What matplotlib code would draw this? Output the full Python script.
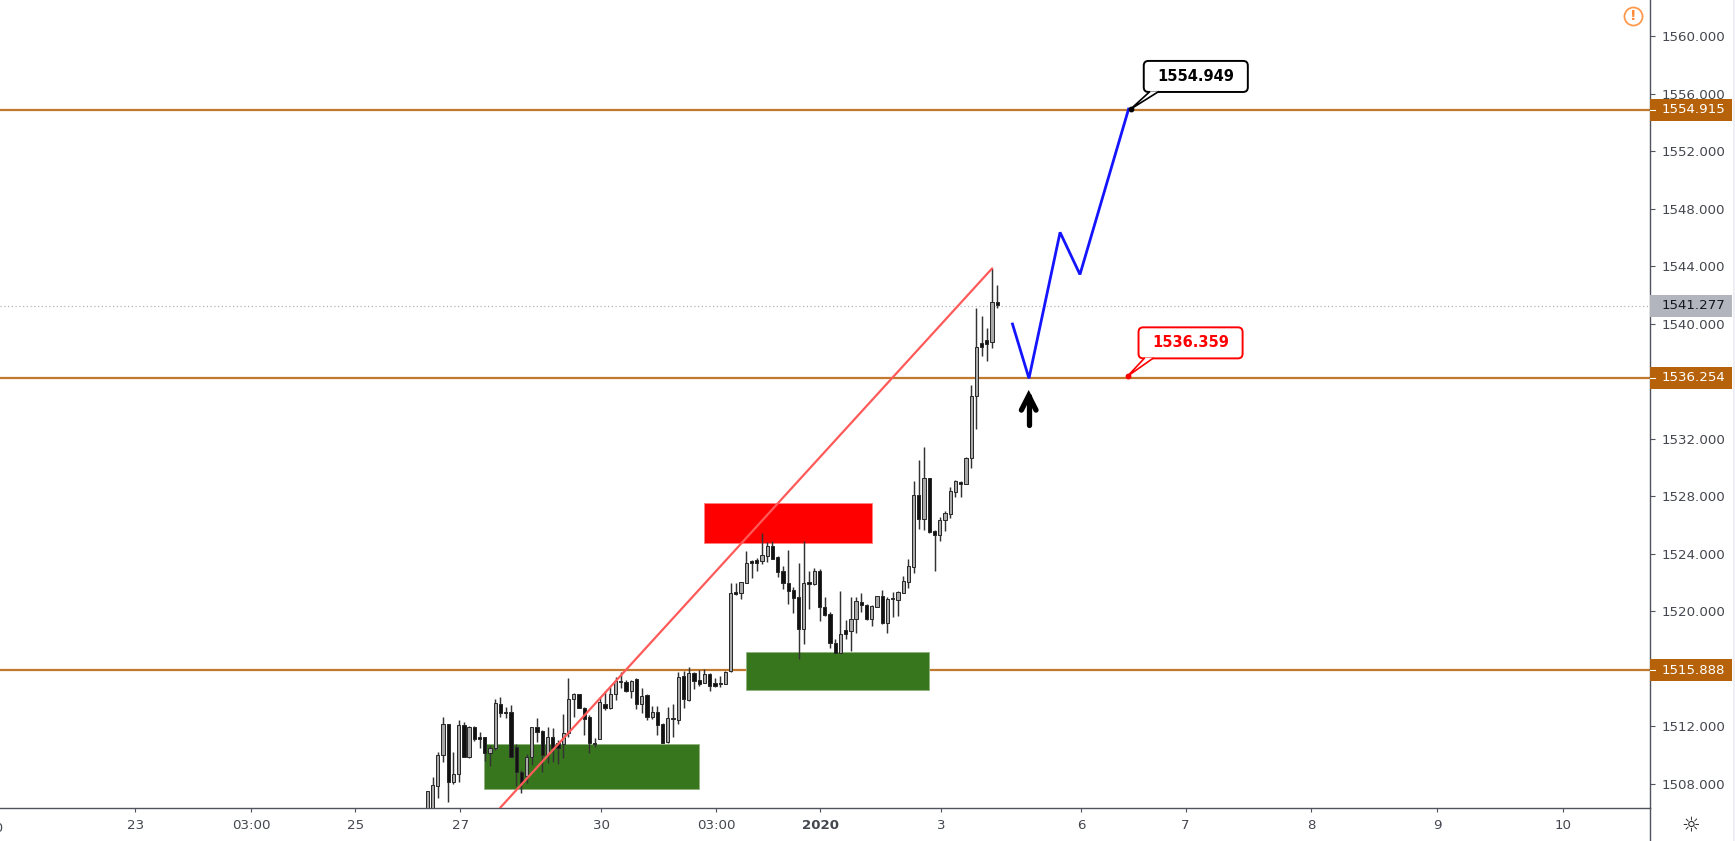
import matplotlib
matplotlib.use("Agg")
import matplotlib.pyplot as plt
from matplotlib.patches import Rectangle, FancyBboxPatch, Polygon
from matplotlib.transforms import blended_transform_factory

highs = [1507.51,1508.49,1510.23,1512.62,1512.15,1510.23,1512.43,1512.31,1512.01,1512.01,
         1511.62,1511.27,1510.69,1513.89,1514.01,1513.31,1513.47,1510.76,1508.95,1510.04,
         1511.97,1512.55,1511.73,1511.92,1511.85,1511.04,1512.85,1515.33,1514.29,1514.24,
         1513.31,1512.78,1511.15,1514.05,1514.47,1514.75,1515.45,1515.79,1515.21,1515.21,
         1515.33,1514.63,1514.22,1513.40,1513.40,1512.20,1513.31,1513.54,1515.79,1515.86,
         1516.14,1515.79,1515.91,1515.98,1515.68,1515.33,1515.49,1515.86,
         1521.99,1521.95,1522.06,1524.22,1523.57,1523.69,1525.43,1524.85,1524.89,1523.85,
         1523.15,1524.27,1521.67,1523.34,1524.89,1522.83,1522.99,1522.92,1520.97,1519.98,
         1518.05,1521.41,1519.40,1520.97,1520.97,1521.25,1520.51,1520.44,1521.07,1521.48,
         1521.02,1521.37,1521.41,1522.46,1523.66,1529.09,1530.52,1531.45,1529.25,1525.66,
         1526.59,1527.00,1528.63,1529.13,1529.09,1530.76,1535.74,1541.08,1540.57,1539.69,
         1543.86,1542.70]
opens = [1505.50,1506.00,1507.86,1510.00,1512.15,1508.09,1508.67,1512.06,1509.83,1511.92,
         1511.22,1511.22,1510.11,1510.46,1513.54,1512.96,1512.96,1510.53,1508.83,1508.56,
         1509.88,1511.92,1511.66,1510.02,1511.27,1510.81,1510.76,1511.50,1513.87,1514.24,
         1513.27,1512.66,1510.85,1511.08,1513.54,1513.24,1514.24,1515.17,1515.05,1514.47,
         1515.28,1513.54,1514.17,1512.62,1513.01,1512.15,1510.88,1512.59,1512.43,1515.49,
         1513.82,1515.68,1515.22,1514.98,1515.61,1514.98,1514.98,1514.94,
         1515.85,1521.32,1521.25,1521.99,1523.48,1523.57,1523.53,1523.85,1524.55,1523.80,
         1522.81,1521.99,1521.48,1520.97,1518.75,1522.04,1521.88,1522.83,1520.32,1519.81,
         1517.82,1517.08,1518.70,1518.65,1519.44,1520.67,1520.44,1519.44,1520.32,1521.07,
         1519.21,1520.88,1520.79,1521.30,1522.06,1523.11,1528.10,1526.40,1529.25,1525.61,
         1525.31,1526.36,1526.77,1528.32,1529.02,1528.85,1530.64,1534.98,1538.64,1538.88,
         1538.76,1541.54]
closes = [1507.51,1507.91,1510.00,1512.15,1508.09,1508.67,1512.06,1509.83,1511.92,1511.08,
          1511.11,1510.11,1510.46,1513.59,1512.89,1512.89,1509.83,1508.79,1508.02,1509.88,
          1511.92,1511.57,1510.00,1511.27,1510.46,1510.46,1511.55,1513.89,1514.24,1513.24,
          1512.52,1510.81,1510.76,1513.71,1513.24,1514.24,1515.15,1515.05,1514.47,1515.17,
          1513.54,1514.12,1512.62,1513.01,1512.08,1510.85,1512.55,1512.52,1515.45,1513.87,
          1515.68,1515.17,1514.91,1515.61,1514.80,1514.82,1514.91,1515.79,
          1521.30,1521.21,1522.04,1523.39,1523.39,1523.39,1523.90,1524.55,1523.66,1522.74,
          1521.95,1521.44,1520.90,1518.75,1521.99,1521.90,1522.83,1520.32,1519.77,1517.77,
          1517.08,1518.42,1518.42,1519.44,1520.70,1520.44,1519.44,1520.37,1521.07,1519.16,
          1520.88,1520.83,1521.34,1522.11,1523.15,1528.10,1526.40,1529.25,1525.54,1525.31,
          1526.36,1526.82,1528.37,1529.06,1528.85,1530.64,1534.98,1538.37,1538.37,1538.60,
          1541.50,1541.28]
lows = [1505.00,1505.50,1506.98,1509.53,1506.70,1507.98,1508.14,1509.83,1509.76,1510.99,
        1510.46,1509.60,1509.25,1510.34,1512.66,1512.55,1509.83,1507.86,1507.33,1508.02,
        1509.30,1510.92,1508.79,1509.41,1509.53,1509.37,1509.76,1511.27,1512.62,1513.24,
        1511.39,1510.11,1510.57,1511.08,1513.13,1513.17,1513.82,1514.63,1514.40,1513.94,
        1513.17,1512.89,1512.43,1512.48,1511.39,1510.81,1510.81,1511.22,1512.15,1513.24,
        1513.77,1514.56,1514.82,1514.98,1514.47,1514.75,1514.75,1514.94,
        1515.80,1521.14,1520.83,1521.95,1522.30,1522.83,1523.29,1523.46,1523.62,1522.37,
        1521.53,1520.49,1519.91,1516.66,1517.70,1520.14,1521.83,1519.35,1519.67,1517.42,
        1517.08,1517.08,1518.05,1517.24,1518.47,1519.98,1519.40,1518.98,1520.32,1519.12,
        1518.47,1519.58,1519.67,1521.25,1521.60,1522.69,1525.71,1525.66,1525.43,1522.83,
        1524.92,1525.61,1526.47,1527.93,1527.97,1528.85,1529.94,1532.68,1537.76,1537.44,
        1538.30,1541.08]

level_prices = [1554.915, 1536.254, 1515.888]
level_labels = ["1554.915", "1536.254", "1515.888"]
last_price = 1541.277
last_label = "1541.277"

ytick_values = [1508, 1512, 1520, 1524, 1528, 1532, 1540, 1544, 1548, 1552, 1556, 1560]

xtick_pos = [-55.8, -33.7, -13.8, 6.3, 33.3, 55.2, 75.1, 98.2, 125, 145, 169, 193.1, 217.2]
xtick_labels = ["23", "03:00", "25", "27", "30", "03:00", "2020", "3", "6", "7", "8", "9", "10"]

green_zones = [(10.9, 51.95, 1507.61, 1510.76), (60.9, 96.0, 1514.49, 1517.15)]
red_zone = (53.0, 85.0, 1524.73, 1527.52)
trend_x = [13.9, 108.0]
trend_y = [1506.31, 1543.86]
path_x = [111.9, 115.05, 121.0, 124.8, 134.1]
path_y = [1539.99, 1536.21, 1546.37, 1543.44, 1554.95]

callout_texts = ["1554.949", "1536.359"]
callout_x = [134.5, 133.9]
callout_y = [1554.949, 1536.359]
callout_box_x = [137.0, 136.0]
callout_box_w = [19.9, 19.9]
callout_box_y = [1556.14, 1537.60]
callout_box_h = [2.16, 2.16]
callout_colors = ["black", "#ff0000"]

W, H = 1735, 841
AX_R, AX_B = 1650, 808
BRONZE = "#b5620a"
AXC = "#50535e"
TXT = "#44474f"
FS = 9.6

fig = plt.figure(figsize=(W / 100, H / 100), dpi=100, facecolor="white")
ax = fig.add_axes([0, (H - AX_B) / H, AX_R / W, AX_B / H])
ax.set_xlim(-81.7, 233.8)
ax.set_ylim(1506.31, 1562.54)
ax.set_facecolor("white")
for s in ("top", "left"):
    ax.spines[s].set_visible(False)
for s in ("right", "bottom"):
    ax.spines[s].set_color(AXC)
    ax.spines[s].set_linewidth(1.0)

ax.yaxis.tick_right()
ax.set_yticks(ytick_values)
ax.set_yticklabels([f"{v:.3f}" for v in ytick_values])
ax.tick_params(axis="y", length=3.6, width=0.8, color=AXC, labelcolor=TXT, labelsize=FS, pad=4.4)
ax.set_xticks(xtick_pos)
ax.set_xticklabels(xtick_labels)
ax.tick_params(axis="x", length=3.2, width=0.8, color=AXC, labelcolor=TXT, labelsize=FS, pad=5.0)
ax.get_xticklabels()[6].set_fontweight("bold")
ax.text(-82.7, -0.025, "20", transform=blended_transform_factory(ax.transData, ax.transAxes),
        ha="center", va="center", color=TXT, fontsize=FS, clip_on=False)

# horizontal levels and current price line
for p in level_prices:
    ax.axhline(p, color=BRONZE, lw=1.6, zorder=1.6, alpha=0.85)
ax.axhline(last_price, color="#b2b5be", lw=0.9, ls=(0, (1, 2)), zorder=1.4)

# zones
for x0, x1, y0, y1 in green_zones:
    ax.add_patch(Rectangle((x0, y0), x1 - x0, y1 - y0, fc="#38761d", ec="#8fb27f", lw=0.6, zorder=2))
ax.add_patch(Rectangle((red_zone[0], red_zone[2]), red_zone[1] - red_zone[0], red_zone[3] - red_zone[2],
                       fc="#ff0000", ec="#ff8080", lw=0.6, zorder=2))

# candles
idx = list(range(len(highs)))
ax.vlines(idx, lows, highs, color="#333333", lw=1.05, zorder=3)
bodies_bottom = [min(o, c) for o, c in zip(opens, closes)]
bodies_height = [max(abs(c - o), 0.06) for o, c in zip(opens, closes)]
fills = ["#a8a8a8" if c > o else "#111111" for o, c in zip(opens, closes)]
ax.bar(idx, bodies_height, bottom=bodies_bottom, width=0.62, color=fills, edgecolor="#2a2a2a",
       linewidth=0.72, zorder=3.1)

# trend line, projected path
ax.plot(trend_x, trend_y, color="#ff5a5a", lw=1.6, zorder=4, solid_capstyle="round")
ax.plot(path_x, path_y, color="#1414ff", lw=2.0, zorder=4, solid_joinstyle="miter")

# up arrow
arrow_x = 115.0
ax.plot([arrow_x, arrow_x], [1532.95, 1535.0], color="black", lw=3.8, solid_capstyle="round", zorder=4)
ax.plot([arrow_x - 1.4, arrow_x, arrow_x + 1.4], [1534.0, 1535.0, 1534.0], color="black", lw=3.8,
        solid_capstyle="round", solid_joinstyle="miter", zorder=4)

# callouts
for text, x, y, bx, bw, by, bh, col in zip(callout_texts, callout_x, callout_y, callout_box_x,
                                           callout_box_w, callout_box_y, callout_box_h, callout_colors):
    ax.add_patch(FancyBboxPatch((bx, by), bw, bh, boxstyle="round,pad=0,rounding_size=0.9",
                                mutation_aspect=5.23 / 14.37, fc="white", ec=col, lw=1.4, zorder=6))
    ax.add_patch(Polygon([(bx + 1.2, by + 0.04), (x, y), (bx + 2.9, by + 0.04)], closed=False,
                         fc="white", ec=col, lw=1.2, zorder=6.5))
    ax.text(bx + bw / 2, by + bh / 2, text, ha="center", va="center", color=col,
            fontsize=10.5, fontweight="bold", zorder=7)
    ax.plot([x], [y], "o", ms=3.2, color=col, zorder=7)

# price axis boxes
bt = blended_transform_factory(ax.transAxes, ax.transData)
box_w = 82 / AX_R
box_h = 22 / 14.37
txt_x = 1 + (1661.7 - AX_R) / AX_R
tick_end = 1 + 5 / AX_R
for p, lab in zip(level_prices, level_labels):
    ax.add_patch(Rectangle((1, p - box_h / 2), box_w, box_h, transform=bt, fc=BRONZE, ec="none",
                           clip_on=False, zorder=8))
    ax.plot([1, tick_end], [p, p], transform=bt, color="white", lw=0.8, clip_on=False, zorder=9)
    ax.text(txt_x, p, lab, transform=bt, ha="left", va="center", color="white", fontsize=FS,
            clip_on=False, zorder=9)
ax.add_patch(Rectangle((1, last_price - box_h / 2), box_w, box_h, transform=bt, fc="#b2b5be", ec="none",
                       clip_on=False, zorder=8))
ax.text(txt_x, last_price, last_label, transform=bt, ha="left", va="center", color="#131722",
        fontsize=FS, clip_on=False, zorder=9)
ax.set_ylim(1506.31, 1562.54)

# warning icon, axis corner, theme icon, right edge
ax.plot([1633 / AX_R], [1 - 15.7 / AX_B], "o", transform=ax.transAxes, ms=13, mfc="none",
        mec="#ff9a4d", mew=1.3, clip_on=False, zorder=9)
ax.text(1633 / AX_R, 1 - 15.7 / AX_B, "!", transform=ax.transAxes, ha="center", va="center",
        color="#ff8c3a", fontsize=10, fontweight="bold", zorder=9)
fig.add_artist(plt.Line2D([AX_R / W, AX_R / W], [0, (H - AX_B) / H], color=AXC, lw=1.0))
fig.text(1690.7 / W, 1 - 825.7 / H, "\u263c", ha="center", va="center", fontsize=15, color="#222222")
fig.add_artist(Rectangle((1733 / W, 0), 2 / W, 1, transform=fig.transFigure, fc="#eeeef4", ec="none"))

fig.savefig("out.png", dpi=100, facecolor="white")
